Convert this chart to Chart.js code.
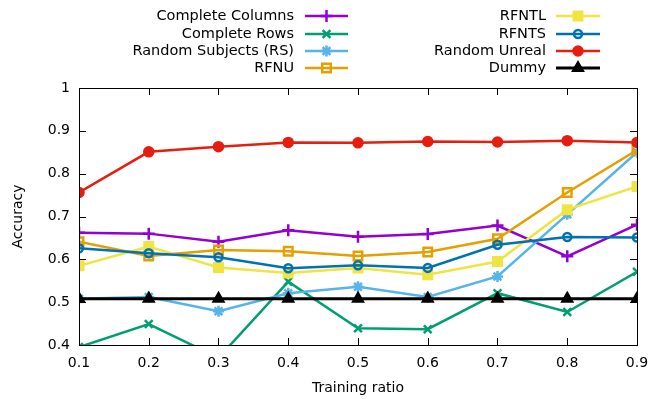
<!DOCTYPE html>
<html>
<head>
<meta charset="utf-8">
<script src="https://cdn.jsdelivr.net/npm/chart.js@4"></script>
<style>
  html, body { margin: 0; padding: 0; background: #fff; }
  #wrap { width: 664px; height: 399px; }
</style>
</head>
<body>
<div id="wrap"><canvas id="accChart" width="664" height="399"></canvas></div>
<script>
// Training ratio on x axis
const ratios = [0.1, 0.2, 0.3, 0.4, 0.5, 0.6, 0.7, 0.8, 0.9];

// Accuracy per method
const completeColumns = [0.662, 0.660, 0.641, 0.668, 0.653, 0.659, 0.679, 0.607, 0.681];
const completeRows    = [0.395, 0.449, 0.370, 0.548, 0.439, 0.437, 0.521, 0.477, 0.571];
const randomSubjects  = [0.508, 0.512, 0.479, 0.521, 0.536, 0.512, 0.560, 0.705, 0.850];
const rfnu            = [0.641, 0.608, 0.622, 0.619, 0.608, 0.617, 0.648, 0.756, 0.855];
const rfntl           = [0.585, 0.630, 0.581, 0.568, 0.580, 0.564, 0.595, 0.716, 0.770];
const rfnts           = [0.626, 0.614, 0.605, 0.579, 0.586, 0.580, 0.634, 0.652, 0.651];
const randomUnreal    = [0.756, 0.851, 0.863, 0.873, 0.872, 0.875, 0.874, 0.877, 0.873];
const dummy           = [0.508, 0.508, 0.508, 0.508, 0.508, 0.508, 0.508, 0.508, 0.508];

const yTicks = [0.4, 0.5, 0.6, 0.7, 0.8, 0.9, 1];

const FONT = 'DejaVu Sans';

function toPoints(arr) {
    return arr.map((v, i) => ({ x: ratios[i], y: v }));
}

const series = [
    { label: 'Complete Columns', data: completeColumns, color: '#9400d3', style: 'cross', r: 6, fill: false },
    { label: 'Complete Rows', data: completeRows, color: '#009e73', style: 'crossRot', r: 5.5, fill: false },
    { label: 'Random Subjects (RS)', data: randomSubjects, color: '#56b4e9', style: 'star', r: 5.5, fill: false },
    { label: 'RFNU', data: rfnu, color: '#e69f00', style: 'rect', r: 6, fill: false },
    { label: 'RFNTL', data: rfntl, color: '#f0e442', style: 'rect', r: 6, fill: true },
    { label: 'RFNTS', data: rfnts, color: '#0072b2', style: 'circle', r: 4, fill: false },
    { label: 'Random Unreal', data: randomUnreal, color: '#e51e10', style: 'circle', r: 4.5, fill: true },
    { label: 'Dummy', data: dummy, color: '#000000', style: 'triangle', r: 5.5, fill: true }
];

const datasets = series.map((s, i) => ({
    label: s.label,
    data: toPoints(s.data),
    borderColor: s.color,
    backgroundColor: s.fill ? s.color : 'rgba(0,0,0,0)',
    pointStyle: s.style,
    pointRadius: s.r,
    pointBorderWidth: 2.5,
    pointBorderColor: s.color,
    pointBackgroundColor: s.fill ? s.color : 'rgba(0,0,0,0)',
    borderWidth: s.label === 'Dummy' ? 3 : 2.5,
    tension: 0,
    order: series.length - i
}));

// gnuplot-like frame, inward ticks, axis titles and key
const framePlugin = {
    id: 'frame',
    afterDraw(chart) {
        const ctx = chart.ctx;
        const a = chart.chartArea;
        const xs = chart.scales.x;
        const ys = chart.scales.y;
        ctx.save();
        ctx.strokeStyle = '#000';
        ctx.lineWidth = 1;
        ctx.strokeRect(a.left + 0.5, a.top + 0.5, a.right - a.left, a.bottom - a.top);
        const tl = 7;
        ratios.forEach(r => {
            const px = Math.round(xs.getPixelForValue(r)) + 0.5;
            ctx.beginPath();
            ctx.moveTo(px, a.bottom); ctx.lineTo(px, a.bottom - tl);
            ctx.moveTo(px, a.top); ctx.lineTo(px, a.top + tl);
            ctx.stroke();
        });
        yTicks.forEach(t => {
            const py = Math.round(ys.getPixelForValue(t)) + 0.5;
            ctx.beginPath();
            ctx.moveTo(a.left, py); ctx.lineTo(a.left + tl, py);
            ctx.moveTo(a.right, py); ctx.lineTo(a.right - tl, py);
            ctx.stroke();
        });

        // axis titles
        ctx.fillStyle = '#000';
        ctx.font = '14px "' + FONT + '"';
        ctx.textAlign = 'center';
        ctx.textBaseline = 'middle';
        ctx.fillText('Training ratio', (a.left + a.right) / 2, 388);
        ctx.translate(18, (a.top + a.bottom) / 2);
        ctx.rotate(-Math.PI / 2);
        ctx.fillText('Accuracy', 0, 0);
        ctx.restore();

        // key in two columns
        ctx.save();
        ctx.font = '14.5px "' + FONT + '"';
        ctx.textBaseline = 'middle';
        ctx.textAlign = 'right';
        const rowsY = [16, 34, 51, 68];
        const cols = [{ textX: 294, x0: 305, x1: 348 }, { textX: 546, x0: 556, x1: 600 }];
        chart.data.datasets.forEach((ds, i) => {
            const c = cols[Math.floor(i / 4)];
            const y = rowsY[i % 4];
            ctx.fillStyle = '#000';
            ctx.fillText(ds.label, c.textX, y);
            ctx.strokeStyle = ds.borderColor;
            ctx.lineWidth = ds.borderWidth;
            ctx.beginPath();
            ctx.moveTo(c.x0, y); ctx.lineTo(c.x1, y);
            ctx.stroke();
            ctx.lineWidth = ds.pointBorderWidth;
            ctx.fillStyle = ds.pointBackgroundColor;
            Chart.helpers.drawPoint(ctx, {
                pointStyle: ds.pointStyle,
                radius: ds.pointRadius,
                rotation: 0,
                borderWidth: ds.pointBorderWidth
            }, (c.x0 + c.x1) / 2, y);
        });
        ctx.restore();
    }
};

new Chart(document.getElementById('accChart'), {
    type: 'line',
    data: { datasets: datasets },
    options: {
        responsive: false,
        animation: false,
        events: [],
        layout: { padding: { left: 0, right: 27, top: 88, bottom: 0 } },
        plugins: {
            legend: { display: false },
            tooltip: { enabled: false }
        },
        scales: {
            x: {
                type: 'linear',
                min: 0.1,
                max: 0.9,
                afterFit(scale) { scale.height = 54; },
                afterBuildTicks(scale) { scale.ticks = ratios.map(v => ({ value: v })); },
                grid: { display: false, drawTicks: false },
                border: { display: false },
                ticks: {
                    color: '#000',
                    padding: 10,
                    maxRotation: 0,
                    font: { family: FONT, size: 14 },
                    callback: v => v.toFixed(1)
                }
            },
            y: {
                min: 0.4,
                max: 1,
                afterFit(scale) { scale.width = 79; },
                afterBuildTicks(scale) { scale.ticks = yTicks.map(v => ({ value: v })); },
                grid: { display: false, drawTicks: false },
                border: { display: false },
                ticks: {
                    color: '#000',
                    padding: 9,
                    font: { family: FONT, size: 14 },
                    callback: v => (v === 1 ? '1' : v.toFixed(1))
                }
            }
        }
    },
    plugins: [framePlugin]
});
</script>
</body>
</html>
